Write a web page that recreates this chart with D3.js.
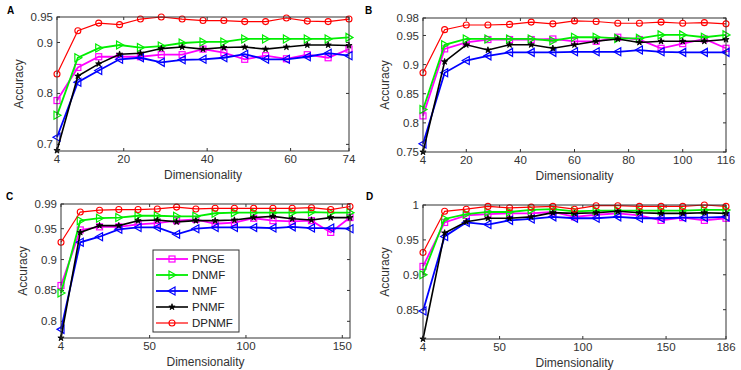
<!DOCTYPE html>
<html>
<head>
<meta charset="UTF-8">
<title>Accuracy vs Dimensionality</title>
<style>
  body { margin: 0; background: #fff; }
  svg { display: block; font-family: "Liberation Sans", Arial, sans-serif; }
  .frame { fill: none; stroke: #333; stroke-width: 1; }
  .tick line { stroke: #333; stroke-width: 1; }
  .ticklabel { font-size: 11.5px; fill: #333; }
  .title { font-size: 12px; fill: #333; }
  .panel { font-size: 10px; font-weight: bold; fill: #000; }
  .legend text { font-size: 11.5px; fill: #222; }
</style>
</head>
<body>
<script src="https://d3js.org/d3.v7.min.js"></script>
<script>
// ---- data ----
const methods = ["PNGE", "DNMF", "NMF", "PNMF", "DPNMF"];

const dimsA = [4, 9, 14, 19, 24, 29, 34, 39, 44, 49, 54, 59, 64, 69, 74];
const pngeA  = [0.786, 0.851, 0.872, 0.872, 0.872, 0.876, 0.876, 0.887, 0.880, 0.867, 0.874, 0.868, 0.876, 0.870, 0.887];
const dnmfA  = [0.757, 0.870, 0.889, 0.895, 0.890, 0.893, 0.899, 0.901, 0.901, 0.907, 0.907, 0.907, 0.907, 0.907, 0.910];
const nmfA   = [0.714, 0.822, 0.845, 0.867, 0.870, 0.861, 0.866, 0.867, 0.870, 0.877, 0.867, 0.867, 0.872, 0.879, 0.874];
const pnmfA  = [0.688, 0.834, 0.858, 0.877, 0.879, 0.888, 0.891, 0.887, 0.890, 0.891, 0.887, 0.891, 0.895, 0.895, 0.894];
const dpnmfA = [0.838, 0.923, 0.938, 0.935, 0.946, 0.950, 0.946, 0.943, 0.943, 0.941, 0.941, 0.948, 0.942, 0.941, 0.946];

const dimsB = [4, 12, 20, 28, 36, 44, 52, 60, 68, 76, 84, 92, 100, 108, 116];
const pngeB  = [0.812, 0.927, 0.938, 0.943, 0.943, 0.943, 0.944, 0.940, 0.940, 0.947, 0.943, 0.928, 0.936, 0.944, 0.928];
const dnmfB  = [0.823, 0.934, 0.944, 0.944, 0.944, 0.944, 0.941, 0.947, 0.947, 0.945, 0.945, 0.951, 0.951, 0.947, 0.951];
const nmfB   = [0.764, 0.886, 0.907, 0.915, 0.921, 0.921, 0.921, 0.922, 0.922, 0.922, 0.925, 0.922, 0.921, 0.921, 0.921];
const pnmfB  = [0.750, 0.905, 0.934, 0.925, 0.934, 0.934, 0.928, 0.934, 0.940, 0.944, 0.938, 0.940, 0.940, 0.940, 0.943];
const dpnmfB = [0.886, 0.960, 0.968, 0.968, 0.969, 0.973, 0.970, 0.975, 0.974, 0.971, 0.971, 0.973, 0.971, 0.972, 0.970];

const dimsC = [4, 14, 24, 34, 44, 54, 64, 74, 84, 94, 104, 114, 124, 134, 144, 154];
const pngeC  = [0.858, 0.948, 0.953, 0.953, 0.957, 0.959, 0.963, 0.965, 0.958, 0.960, 0.967, 0.963, 0.962, 0.963, 0.944, 0.968];
const dnmfC  = [0.846, 0.963, 0.967, 0.968, 0.971, 0.971, 0.970, 0.970, 0.975, 0.976, 0.976, 0.976, 0.976, 0.977, 0.976, 0.976];
const nmfC   = [0.787, 0.928, 0.937, 0.949, 0.952, 0.952, 0.941, 0.950, 0.952, 0.952, 0.952, 0.951, 0.953, 0.951, 0.951, 0.950];
const pnmfC  = [0.773, 0.944, 0.955, 0.955, 0.963, 0.964, 0.961, 0.963, 0.963, 0.964, 0.968, 0.970, 0.966, 0.964, 0.968, 0.968];
const dpnmfC = [0.928, 0.977, 0.980, 0.981, 0.981, 0.982, 0.985, 0.982, 0.983, 0.983, 0.983, 0.983, 0.983, 0.984, 0.981, 0.986];

const dimsD = [4, 17, 30, 43, 56, 69, 82, 95, 108, 121, 134, 147, 160, 173, 186];
const pngeD  = [0.912, 0.975, 0.985, 0.987, 0.988, 0.988, 0.990, 0.983, 0.986, 0.988, 0.985, 0.978, 0.982, 0.978, 0.981];
const dnmfD  = [0.900, 0.980, 0.987, 0.990, 0.990, 0.993, 0.994, 0.991, 0.992, 0.992, 0.992, 0.992, 0.992, 0.993, 0.993];
const nmfD   = [0.848, 0.955, 0.975, 0.972, 0.978, 0.980, 0.983, 0.981, 0.981, 0.983, 0.981, 0.981, 0.982, 0.982, 0.983];
const pnmfD  = [0.808, 0.960, 0.976, 0.981, 0.981, 0.983, 0.989, 0.988, 0.989, 0.991, 0.989, 0.988, 0.988, 0.989, 0.988];
const dpnmfD = [0.932, 0.991, 0.994, 0.998, 0.996, 0.997, 0.998, 0.994, 0.999, 0.999, 0.998, 0.998, 0.998, 1.000, 0.998];

const xTicksA = [4, 20, 40, 60, 74],  yTicksA = [0.7, 0.8, 0.9, 0.95];
const xTicksB = [4, 20, 40, 60, 80, 100, 116], yTicksB = [0.75, 0.8, 0.85, 0.9, 0.95, 0.98];
const xTicksC = [4, 50, 100, 150], yTicksC = [0.8, 0.85, 0.9, 0.95, 0.99];
const xTicksD = [4, 50, 100, 150, 186], yTicksD = [0.85, 0.9, 0.95, 1];

// ---- styles ----
const colors = { PNGE: "#ff00ff", DNMF: "#00ee00", NMF: "#0000ff", PNMF: "#000000", DPNMF: "#ff0000" };
const widths = { PNGE: 1.8, DNMF: 1.8, NMF: 1.8, PNMF: 1.6, DPNMF: 1.2 };

const panels = [
  { id: "A", dims: dimsA, series: [pngeA, dnmfA, nmfA, pnmfA, dpnmfA], xd: [4, 74],  yd: [0.687, 0.95],
    xt: xTicksA, yt: yTicksA, box: [57, 349, 17, 151], lab: [7, 14], ytx: 19 },
  { id: "B", dims: dimsB, series: [pngeB, dnmfB, nmfB, pnmfB, dpnmfB], xd: [4, 116], yd: [0.75, 0.98],
    xt: xTicksB, yt: yTicksB, box: [423, 726, 18, 152], lab: [365, 14], ytx: 385 },
  { id: "C", dims: dimsC, series: [pngeC, dnmfC, nmfC, pnmfC, dpnmfC], xd: [4, 154], yd: [0.773, 0.99],
    xt: xTicksC, yt: yTicksC, box: [61, 350, 204, 338], lab: [6, 200], ytx: 23, legend: true },
  { id: "D", dims: dimsD, series: [pngeD, dnmfD, nmfD, pnmfD, dpnmfD], xd: [4, 186], yd: [0.808, 1.0],
    xt: xTicksD, yt: yTicksD, box: [423, 726, 205, 339], lab: [366, 200], ytx: 385 }
];

const svg = d3.select("body").append("svg").attr("width", 741).attr("height", 370);

function drawMarker(g, m, x, y) {
  const c = colors[m];
  if (m === "PNGE") {
    g.append("rect").attr("x", x - 3).attr("y", y - 3).attr("width", 6).attr("height", 6)
      .attr("fill", "none").attr("stroke", c).attr("stroke-width", 1.2);
  } else if (m === "DNMF") {
    g.append("path").attr("d", `M${x - 3},${y - 4}L${x + 4},${y}L${x - 3},${y + 4}Z`)
      .attr("fill", "none").attr("stroke", c).attr("stroke-width", 1.2);
  } else if (m === "NMF") {
    g.append("path").attr("d", `M${x + 3},${y - 4}L${x - 4},${y}L${x + 3},${y + 4}Z`)
      .attr("fill", "none").attr("stroke", c).attr("stroke-width", 1.2);
  } else if (m === "PNMF") {
    g.append("path").attr("d", d3.symbol().type(d3.symbolStar).size(12)())
      .attr("transform", `translate(${x},${y})`).attr("fill", c).attr("stroke", c).attr("stroke-width", 0.8);
  } else {
    g.append("circle").attr("cx", x).attr("cy", y).attr("r", 3)
      .attr("fill", "none").attr("stroke", c).attr("stroke-width", 1.1);
  }
}

panels.forEach(p => {
  const [l, r, t, b] = p.box;
  const x = d3.scaleLinear().domain(p.xd).range([l, r]);
  const y = d3.scaleLinear().domain(p.yd).range([b, t]);
  const g = svg.append("g");

  // ticks inside the box, all four sides
  const tk = g.append("g").attr("class", "tick");
  p.xt.forEach(v => {
    tk.append("line").attr("x1", x(v)).attr("x2", x(v)).attr("y1", b).attr("y2", b - 3);
    tk.append("line").attr("x1", x(v)).attr("x2", x(v)).attr("y1", t).attr("y2", t + 3);
    g.append("text").attr("class", "ticklabel").attr("x", x(v)).attr("y", b + 12)
      .attr("text-anchor", "middle").text(v);
  });
  p.yt.forEach(v => {
    tk.append("line").attr("x1", l).attr("x2", l + 3).attr("y1", y(v)).attr("y2", y(v));
    tk.append("line").attr("x1", r).attr("x2", r - 3).attr("y1", y(v)).attr("y2", y(v));
    g.append("text").attr("class", "ticklabel").attr("x", l - 4).attr("y", y(v)).attr("dy", "0.35em")
      .attr("text-anchor", "end").text(String(v));
  });

  // lines + markers
  const line = d3.line().x(d => x(d[0])).y(d => y(d[1]));
  p.series.forEach((vals, i) => {
    const m = methods[i];
    const pts = p.dims.map((d, j) => [d, vals[j]]);
    g.append("path").datum(pts).attr("d", line)
      .attr("fill", "none").attr("stroke", colors[m]).attr("stroke-width", widths[m]);
    const mg = g.append("g");
    pts.forEach(pt => drawMarker(mg, m, x(pt[0]), y(pt[1])));
  });

  g.append("rect").attr("class", "frame").attr("x", l).attr("y", t).attr("width", r - l).attr("height", b - t);

  g.append("text").attr("class", "title").attr("x", (l + r) / 2).attr("y", b + 28)
    .attr("text-anchor", "middle").text("Dimensionality");
  g.append("text").attr("class", "title")
    .attr("transform", `translate(${p.ytx + 4},${(t + b) / 2}) rotate(-90)`)
    .attr("text-anchor", "middle").text("Accuracy");
  g.append("text").attr("class", "panel").attr("x", p.lab[0]).attr("y", p.lab[1]).text(p.id);

  if (p.legend) {
    const lg = g.append("g").attr("class", "legend");
    lg.append("rect").attr("x", 153).attr("y", 250).attr("width", 86).attr("height", 82)
      .attr("fill", "#fff").attr("stroke", "#333").attr("stroke-width", 1);
    methods.forEach((m, i) => {
      const yy = 259 + i * 16;
      lg.append("line").attr("x1", 156).attr("x2", 188).attr("y1", yy).attr("y2", yy)
        .attr("stroke", colors[m]).attr("stroke-width", widths[m]);
      drawMarker(lg, m, 172, yy);
      lg.append("text").attr("x", 192).attr("y", yy).attr("dy", "0.36em").text(m);
    });
  }
});
</script>
</body>
</html>
